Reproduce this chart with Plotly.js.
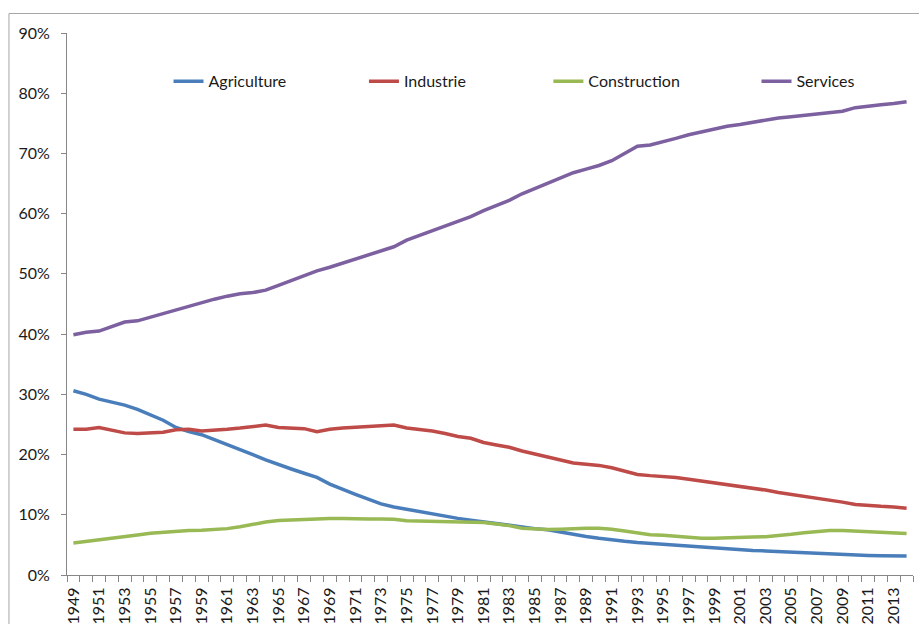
<!DOCTYPE html>
<html>
<head>
<meta charset="utf-8">
<script src="https://cdn.plot.ly/plotly-3.0.1.min.js"></script>
<style>html,body{margin:0;padding:0;background:#fff;}#chart{width:919px;height:624px;}</style>
</head>
<body>
<div id="chart"></div>
<script>
const years = [];
for (let y = 1949; y <= 2014; y++) years.push(y);

const agriculture = [30.6,30.0,29.2,28.7,28.2,27.5,26.6,25.7,24.5,23.8,
  23.3,22.5,21.7,20.8,20.0,19.1,18.3,17.6,16.9,16.2,
  15.1,14.2,13.4,12.6,11.8,11.3,10.9,10.5,10.1,9.7,
  9.4,9.1,8.8,8.5,8.3,8.0,7.7,7.5,7.1,6.8,
  6.4,6.1,5.8,5.6,5.4,5.25,5.1,4.95,4.8,4.65,
  4.5,4.35,4.15,4.05,4.0,3.9,3.8,3.7,3.6,3.5,
  3.35,3.3,3.25,3.2,3.15,3.15];

const industrie = [24.2,24.2,24.5,24.0,23.6,23.5,23.6,23.7,24.1,24.2,
  23.9,24.0,24.2,24.4,24.7,24.9,24.5,24.4,24.3,23.8,
  24.2,24.4,24.5,24.7,24.8,24.9,24.4,24.2,23.9,23.5,
  23.0,22.7,22.0,21.6,21.2,20.6,20.1,19.6,19.0,18.6,
  18.4,18.2,17.8,17.2,16.7,16.5,16.4,16.2,15.9,15.6,
  15.3,15.0,14.8,14.4,14.1,13.7,13.4,13.0,12.7,12.5,
  12.1,11.7,11.5,11.4,11.3,11.1];

const construction = [5.3,5.55,5.8,6.05,6.35,6.65,6.95,7.1,7.35,7.4,
  7.45,7.55,7.7,8.0,8.4,8.8,9.05,9.15,9.2,9.3,
  9.4,9.4,9.3,9.3,9.3,9.25,9.0,8.95,8.9,8.75,
  8.75,8.75,8.7,8.45,8.2,7.75,7.6,7.55,7.6,7.7,
  7.75,7.75,7.6,7.3,6.95,6.7,6.6,6.45,6.25,6.1,
  6.1,6.2,6.25,6.3,6.35,6.5,6.75,7.0,7.2,7.4,
  7.4,7.3,7.25,7.2,7.1,6.9];

const services = [39.9,40.3,40.5,41.2,42.0,42.2,42.8,43.5,44.1,44.6,
  45.3,45.8,46.3,46.7,46.9,47.3,48.1,48.9,49.6,50.5,
  51.1,51.8,52.5,53.2,53.8,54.5,55.6,56.4,57.1,58.0,
  58.8,59.5,60.5,61.3,62.2,63.3,64.2,65.0,66.0,66.8,
  67.4,68.0,68.8,70.0,71.2,71.4,71.9,72.5,73.1,73.6,
  74.1,74.5,74.8,75.2,75.5,75.9,76.1,76.3,76.5,76.7,
  77.0,77.6,77.9,78.1,78.3,78.6];

const seriesNames = ["Agriculture","Industrie","Construction","Services"];
const seriesColors = ["#4A7EBB","#BE4B48","#98B954","#7D60A0"];
const seriesData = [agriculture, industrie, construction, services];
const legendIds = ["legend","legend2","legend3","legend4"];
const legendX = [0.12, 0.351, 0.569, 0.815];

const tickYears = years.filter(y => (y - 1949) % 2 === 0);

const traces = seriesData.map((d, i) => ({
  type: "scatter",
  mode: "lines",
  x: years,
  y: d,
  name: seriesNames[i],
  legend: legendIds[i],
  line: {color: seriesColors[i], width: 3.5},
  hoverinfo: "x+y+name"
}));

const fam = "Lato, 'Open Sans', sans-serif";
const txt = "#1a1a1a";

const layout = {
  width: 919, height: 624,
  margin: {l: 67, r: 6, t: 33, b: 49},
  paper_bgcolor: "#fff",
  plot_bgcolor: "#fff",
  font: {family: fam, size: 16, color: txt},
  showlegend: true,
  xaxis: {
    type: "linear",
    range: [1948.5, 2014.5],
    tickmode: "array",
    tickvals: tickYears,
    ticktext: tickYears.map(String),
    tickangle: -90,
    ticks: "",
    ticklen: 0,
    ticklabelstandoff: 5,
    showgrid: false,
    zeroline: false,
    showline: true,
    linecolor: "#868686",
    linewidth: 1,
    tickfont: {family: fam, size: 16, color: txt},
    minor: {tick0: 1948.5, dtick: 1, ticks: "outside", ticklen: 6, tickcolor: "#868686", tickwidth: 1, showgrid: false}
  },
  yaxis: {
    range: [0, 90],
    tickmode: "linear",
    tick0: 0,
    dtick: 10,
    ticksuffix: "%",
    ticks: "outside",
    ticklen: 5,
    ticklabelstandoff: 8,
    tickcolor: "#868686",
    showgrid: false,
    zeroline: false,
    showline: true,
    linecolor: "#868686",
    linewidth: 1,
    tickfont: {family: fam, size: 16, color: txt}
  },
  shapes: [{
    type: "rect", xref: "paper", yref: "paper",
    x0: -0.0686, x1: 1.2, y0: -0.3, y1: 1.036,
    line: {color: "#a6a6a6", width: 1}, fillcolor: "rgba(0,0,0,0)", layer: "below"
  }]
};

legendIds.forEach((id, i) => {
  layout[id] = {
    x: legendX[i], y: 0.911, xanchor: "left", yanchor: "middle",
    orientation: "h", bgcolor: "rgba(0,0,0,0)", borderwidth: 0,
    font: {family: fam, size: 16, color: txt}
  };
});

Plotly.newPlot("chart", traces, layout, {displayModeBar: false, staticPlot: true});
</script>
</body>
</html>
